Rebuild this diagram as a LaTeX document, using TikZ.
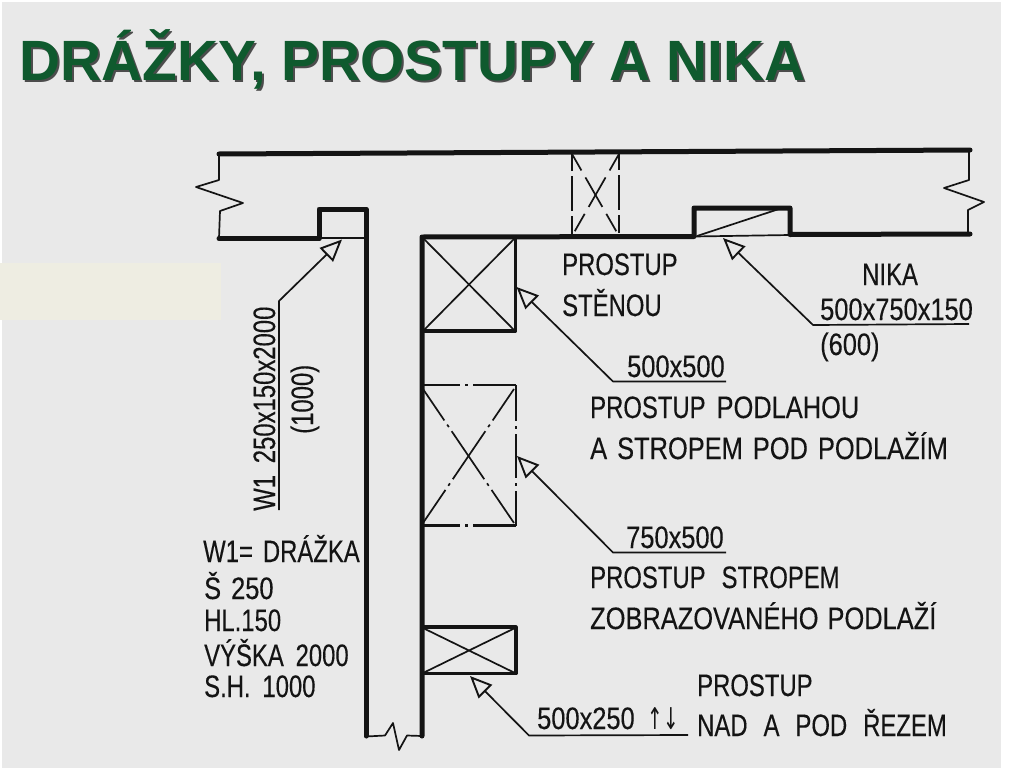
\documentclass[tikz,border=0pt]{standalone}
\usepackage{fontspec}
\usetikzlibrary{arrows.meta}
\setmainfont{Liberation Sans}
\newfontfamily\planfont[FakeStretch=0.77,FakeBold=0.25]{Liberation Sans}
\newfontfamily\numfont[FakeStretch=0.82,FakeBold=0.25]{Liberation Sans}
\newfontfamily\tipfont[FakeStretch=0.62]{DejaVu Sans}
\newcommand{\wgap}{\hspace{14pt}}
\definecolor{pagegray}{HTML}{E9E9E9}
\definecolor{patchcol}{HTML}{EEEDE2}
\definecolor{titlecol}{HTML}{0F5A2E}
\definecolor{inkcol}{HTML}{141414}

\begin{document}
\begin{tikzpicture}[x=1pt, y=-1pt, line join=round,
	wall/.style = {draw=inkcol, line width=5pt, line cap=round},
	frame/.style = {draw=inkcol, line width=3.2pt},
	thin/.style = {draw=inkcol, line width=1.7pt},
	centre/.style = {draw=inkcol, line width=2.4pt},
	leader/.style = {draw=inkcol, line width=1.7pt, {Triangle[open, length=22pt, width=19pt, line width=1.9pt]}-},
	lbl/.style = {inner sep=0pt, anchor=base west, text=inkcol, font=\planfont\fontsize{31}{31}\selectfont},
	size/.style = {lbl, font=\numfont\fontsize{31}{31}\selectfont},
	title/.style = {inner sep=0pt, anchor=base west, font=\bfseries\fontsize{56.8}{56.8}\selectfont}]
	\useasboundingbox (0,0) rectangle (1024,768);
	\fill[white] (0,0) rectangle (1024,768);
	\fill[pagegray] (2,2) rectangle (1001,768);
	\fill[patchcol] (0,263) rectangle (221,320);

	% title, its shadow in the same node
	\node[title, text=titlecol] (titletext) at (19.5,80) {\rlap{\color{black!70}\kern2pt\raisebox{-2pt}{DRÁŽKY, PROSTUPY A NIKA}}DRÁŽKY, PROSTUPY A NIKA};

	% walls
	\draw[wall] (219,154) -- (970,150);
	\draw[wall] (219,238.5) -- (319,238.5) -- (319,209) -- (366,209) -- (366,736);
	\draw[wall] (422,736) -- (422,237) -- (694,236.5) -- (694,208) -- (790,208) -- (790,234.5) -- (970,234);
	\draw[thin] (319,238) -- (366,238);
	\draw[thin] (694,236.5) -- (790,235);
	\draw[thin] (697,236) -- (782,208);

	% wall breaks
	\draw[thin] (219,154) -- (219,180) -- (196,187) -- (243,203) -- (220,211) -- (219,238);
	\draw[thin] (969,150) -- (969,180) -- (944,188) -- (984,202) -- (968,210) -- (968,234);
	\draw[thin] (366,736.5) -- (385,735.5) -- (393,723) -- (399,750) -- (407,735.5) -- (422,736);

	% opening in the wall
	\draw[centre, dash pattern=on 17pt off 5pt on 35pt off 5pt on 18pt off 9pt] (572,154) -- (572,236);
	\draw[centre, dash pattern=on 17pt off 5pt on 35pt off 5pt on 18pt off 9pt] (619,153) -- (619,236);
	\draw[thin, dash pattern=on 19pt off 8pt on 34pt off 8pt on 20pt off 9pt] (572,154) -- (619,236);
	\draw[thin, dash pattern=on 19pt off 8pt on 34pt off 8pt on 20pt off 9pt] (619,154) -- (572,236);

	% box under the floor
	\draw[frame] (422,331) -- (515.5,331) -- (515.5,238);
	\draw[thin] (423,238) -- (515,331) (423,331) -- (515,238);

	% box with centre lines
	\draw[centre, dash pattern=on 37pt off 5pt on 3pt off 5pt on 45pt off 9pt] (423,385) -- (516,385);
	\draw[centre, dash pattern=on 37pt off 5pt on 3pt off 5pt on 45pt off 9pt] (423,525.5) -- (516,525.5);
	\draw[centre, dash pattern=on 36pt off 5pt on 3pt off 5pt on 44pt off 5pt on 3pt off 5pt on 40pt off 9pt] (516,385) -- (516,526);
	\draw[thin, dash pattern=on 38pt off 5pt on 3pt off 5pt on 58pt off 5pt on 3pt off 5pt on 40pt off 9pt] (423,389) -- (514,523);
	\draw[thin, dash pattern=on 38pt off 5pt on 3pt off 5pt on 58pt off 5pt on 3pt off 5pt on 40pt off 9pt] (514,389) -- (423,523);

	% box through the cut
	\draw[frame] (422,627) rectangle (516,673.5);
	\draw[thin] (423,628) -- (515,673) (423,673) -- (515,628);

	% leaders
	\coordinate (slotend) at (279,510);
	\coordinate (slotbend) at (279,301);
	\coordinate (slottip) at (342,239.5);
	\coordinate (nichetip) at (723,238);
	\coordinate (nichebend) at (813,325);
	\coordinate (nicheend) at (969,324);
	\coordinate (flooretip) at (516.5,287);
	\coordinate (floorebend) at (613,381.5);
	\coordinate (flooreend) at (726,381.5);
	\coordinate (ceiltip) at (517,456);
	\coordinate (ceilbend) at (613,552.5);
	\coordinate (ceilend) at (726,552.5);
	\coordinate (cuttip) at (470,676);
	\coordinate (cutbend) at (529,735.5);
	\coordinate (cutend) at (688,735);
	\draw[leader] (slottip) -- (slotbend) -- (slotend);
	\draw[leader] (nichetip) -- (nichebend) -- (nicheend);
	\draw[leader] (flooretip) -- (floorebend) -- (flooreend);
	\draw[leader] (ceiltip) -- (ceilbend) -- (ceilend);
	\draw[leader] (cuttip) -- (cutbend) -- (cutend);

	% labels
	\node[lbl, rotate=90] (slotsize) at (275,511) {W1 \,250x150x2000};
	\node[lbl, rotate=90] (slotheight) at (313,434) {(1000)};
	\node[lbl] (wallname) at (562,275) {PROSTUP};
	\node[lbl] (wallname2) at (562,316) {STĚNOU};
	\node[lbl] (nichename) at (862,285) {NIKA};
	\node[size] (nichesize) at (820,320) {500x750x150};
	\node[size] (nicheheight) at (820,355) {(600)};
	\node[size] (floorsize) at (627,377) {500x500};
	\node[lbl] (floorname) at (590,418) {PROSTUP\hspace{11pt}{\numfont PODLAHOU}};
	\node[size] (floorname2) at (590,459) {A\hspace{10pt}STROPEM\hspace{10pt}POD\hspace{10pt}PODLAŽÍM};
	\node[size] (ceilsize) at (626,548) {750x500};
	\node[lbl] (ceilname) at (590,588) {PROSTUP\hspace{16pt}STROPEM};
	\node[size] (ceilname2) at (590,629) {ZOBRAZOVANÉHO\hspace{9pt}PODLAŽÍ};
	\node[size] (cutsize) at (537,729) {500x250\hspace{13pt}{\tipfont\fontsize{30}{30}\selectfont ↑↓}};
	\node[lbl] (cutname) at (697,696) {PROSTUP};
	\node[lbl] (cutname2) at (697,736) {NAD\hspace{16pt}A\hspace{16pt}POD\hspace{16pt}ŘEZEM};
	\node[lbl] (slotnote) at (203,562) {W1=\hspace{10pt}DRÁŽKA};
	\node[size] (slotnote2) at (204,599) {Š\hspace{10pt}250};
	\node[lbl] (slotnote3) at (204,631) {HL.150};
	\node[lbl] (slotnote4) at (204,666) {VÝŠKA \,2000};
	\node[lbl] (slotnote5) at (204,697) {S.H. \,1000};
\end{tikzpicture}
\end{document}
